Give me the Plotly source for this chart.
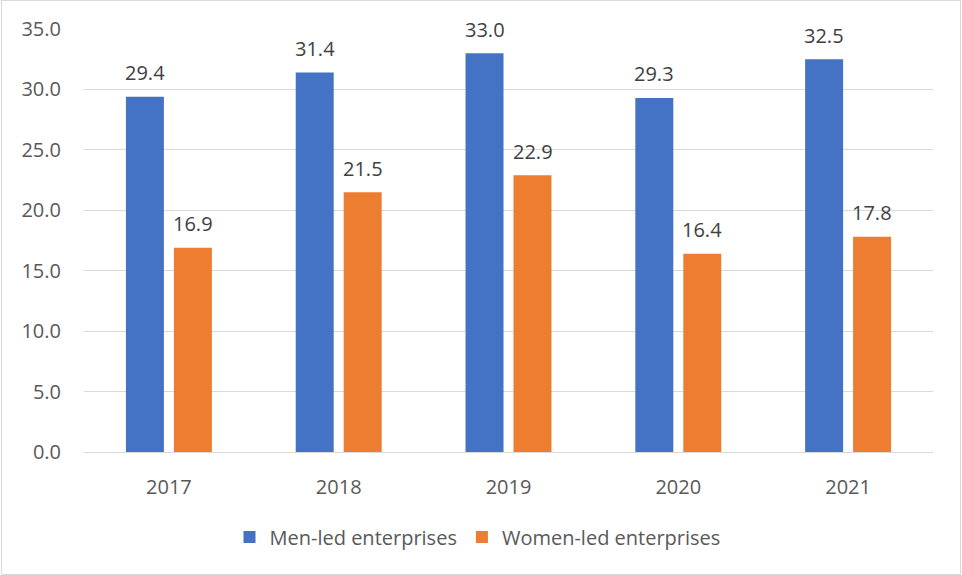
import plotly.graph_objects as go

years = ["2017", "2018", "2019", "2020", "2021"]
men_led = [29.4, 31.4, 33.0, 29.3, 32.5]
women_led = [16.9, 21.5, 22.9, 16.4, 17.8]
y_ticks = [0, 5, 10, 15, 20, 25, 30, 35]

FONT = "'Open Sans', Lato, sans-serif"
FS = 20

fig = go.Figure()
series = [("Men-led enterprises", men_led, "#4472C4", -24),
          ("Women-led enterprises", women_led, "#ED7D31", 24)]
annotations = []
for name, vals, color, dx in series:
    fig.add_trace(go.Bar(
        x=years, y=vals, name=name,
        marker=dict(color=color, line=dict(width=0)),
    ))
    for i, v in enumerate(vals):
        annotations.append(dict(
            x=i, y=v, xref="x", yref="y", text=f"{v:.1f}", showarrow=False,
            xshift=dx, yshift=24, yanchor="middle", xanchor="center",
            font=dict(color="#404040", size=FS, family=FONT)))

W, H = 962, 575
L, R, T, B = 84, 29, 29, 123
pw, ph = W - L - R, H - T - B

fig.update_layout(
    width=W, height=H,
    margin=dict(l=L, r=R, t=T, b=B, autoexpand=False),
    paper_bgcolor="white", plot_bgcolor="white",
    barmode="group", bargap=0.435, bargroupgap=0.208,
    font=dict(family=FONT, color="#595959", size=FS),
    showlegend=True,
    legend=dict(orientation="h", x=(477.5 - L) / pw, xanchor="center",
                y=(H - B - 537) / ph, yanchor="middle",
                font=dict(size=FS, color="#595959", family=FONT),
                itemwidth=30, traceorder="normal"),
    xaxis=dict(type="category", range=[-0.5, len(years) - 0.5],
               showgrid=False, showline=True, linecolor="#d9d9d9", linewidth=1,
               ticks="", tickfont=dict(size=FS, color="#595959"), ticklabelstandoff=17),
    yaxis=dict(range=[0, 35], tickvals=y_ticks,
               ticktext=[f"{v:.1f}" for v in y_ticks],
               showgrid=True, gridcolor="#d9d9d9", gridwidth=1,
               zeroline=False, showline=False, ticks="",
               tickfont=dict(size=FS, color="#595959"), ticklabelstandoff=22),
    annotations=annotations,
    shapes=[dict(type="rect", xref="paper", yref="paper",
                 x0=(1.5 - L) / pw, x1=(960.5 - L) / pw,
                 y0=(H - B - 574.5) / ph, y1=(H - B - 0.5) / ph,
                 line=dict(color="#d9d9d9", width=1), layer="below")],
)

fig.write_html("out.html", config={"displayModeBar": False},
               post_script="document.body.style.margin='0';document.body.style.overflow='hidden';")
